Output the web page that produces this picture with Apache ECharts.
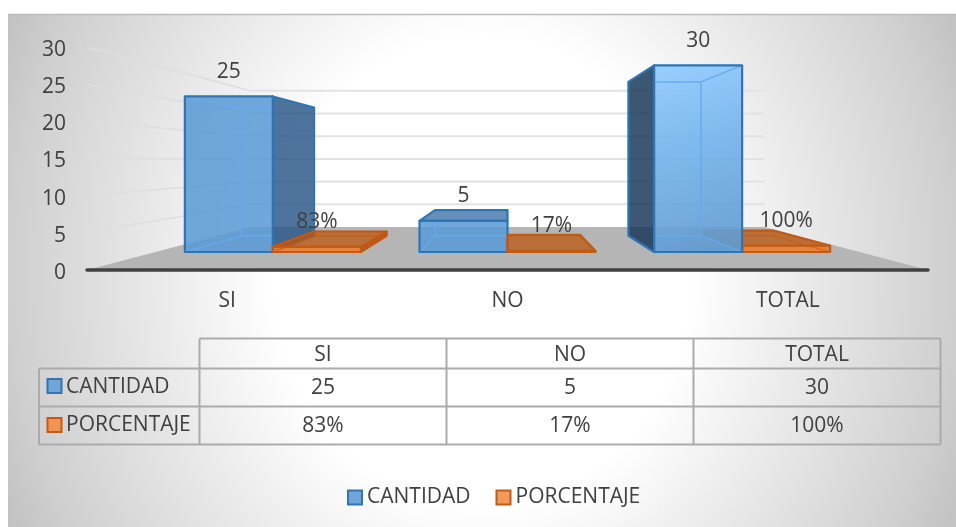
<!DOCTYPE html>
<html>
<head>
<meta charset="utf-8">
<style>html,body{margin:0;padding:0;background:#fff}#c{width:956px;height:527px}</style>
<script src="https://cdn.jsdelivr.net/npm/echarts@6/dist/echarts.min.js"></script>
</head>
<body>
<div id="c"></div>
<script>
const categories = ['SI', 'NO', 'TOTAL'];
const cantidad = [25, 5, 30];
const porcentaje = [0.83, 0.17, 1];
const porcentajeLabels = ['83%', '17%', '100%'];
const yTicks = [0, 5, 10, 15, 20, 25, 30];
const seriesNames = ['CANTIDAD', 'PORCENTAJE'];

const FONT = '"Open Sans", "Noto Sans", sans-serif';
const TEXT = '#404040';
const FS = 21;
const VANISH_Y = 159.5, FLOOR_BACK = 0.611, BAR_FRONT = 0.837, BAR_BACK = 0.69, BAR_FRACTION = 0.375;

const BLUE = {
  edge: '#2e75b6', inner: 'rgba(100,170,238,0.9)', innerFill: 'rgba(91,155,213,0.10)',
  front: 'rgba(91,155,213,0.86)', right: 'rgba(38,84,132,0.80)', left: 'rgba(22,52,86,0.82)', top: 'rgba(50,105,160,0.72)'
};
const ORANGE = {
  edge: '#c55a11', inner: 'rgba(197,90,17,0.55)', innerFill: 'rgba(197,90,17,0.10)',
  front: 'rgba(237,125,49,0.92)', right: 'rgba(170,80,20,0.85)', left: 'rgba(170,80,20,0.75)', top: 'rgba(190,85,10,0.70)'
};

const chart = echarts.init(document.getElementById('c'), null, {renderer: 'canvas'});

function projector(api, params) {
  const vx = params.coordSys.x + params.coordSys.width / 2;
  return (p, d) => [vx + (p[0] - vx) * d, VANISH_Y + (p[1] - VANISH_Y) * d];
}

function renderScene(params, api) {
  const cs = params.coordSys;
  const project = projector(api, params);
  const left = cs.x, right = cs.x + cs.width;
  const y = api.coord([0, api.value(1)])[1];
  const children = [];
  if (params.dataIndex === 0) {
    children.push({
      type: 'polygon', z2: 1,
      shape: {points: [[left, y], project([left, y], FLOOR_BACK), project([right, y], FLOOR_BACK), [right, y]]},
      style: {fill: '#b5b5b5'}
    });
  } else {
    const a = project([left, y], FLOOR_BACK), b = project([right, y], FLOOR_BACK);
    children.push({type: 'line', z2: 2, shape: {x1: left, y1: y, x2: a[0], y2: a[1]}, style: {stroke: '#dedede', lineWidth: 1.5, fill: null}});
    children.push({type: 'line', z2: 2, shape: {x1: a[0], y1: a[1], x2: b[0], y2: b[1]}, style: {stroke: '#e2e2e2', lineWidth: 2, fill: null}});
  }
  return {type: 'group', children};
}

function barRenderer(palette, offsetSign, labelFor, layerFor) {
  return function (params, api) {
    const project = projector(api, params);
    const cat = api.value(0), val = api.value(1);
    const base = api.coord([cat, 0]), topPt = api.coord([cat, val]);
    const w = api.size([1, 0])[0] * BAR_FRACTION;
    const x0 = offsetSign < 0 ? base[0] - w : base[0];
    const x1 = x0 + w;
    const f = (x, y) => project([x, y], BAR_FRONT);
    const b = (x, y) => project([x, y], BAR_BACK);
    const fbl = f(x0, base[1]), fbr = f(x1, base[1]), ftl = f(x0, topPt[1]), ftr = f(x1, topPt[1]);
    const bbl = b(x0, base[1]), bbr = b(x1, base[1]), btl = b(x0, topPt[1]), btr = b(x1, topPt[1]);
    const layer = layerFor(params.dataIndex);
    const children = [];
    const face = (pts, fill, stroke, lw, z) => children.push({
      type: 'polygon', z2: layer + z, shape: {points: pts},
      style: {fill: fill, stroke: stroke, lineWidth: lw, lineJoin: 'round'}
    });
    const outerRight = btr[0] > ftr[0] + 0.5, outerLeft = btl[0] < ftl[0] - 0.5, outerTop = btr[1] < ftr[1] - 0.1;

    const innerFace = (pts) => face(pts, palette.innerFill, null, 0, 0);
    innerFace([bbl, bbr, btr, btl]);
    innerFace([fbl, fbr, bbr, bbl]);
    if (!outerRight) innerFace([fbr, ftr, btr, bbr]);
    if (!outerLeft) innerFace([fbl, ftl, btl, bbl]);
    if (!outerTop) innerFace([ftl, ftr, btr, btl]);

    if (outerRight) face([fbr, ftr, btr, bbr], palette.right, palette.edge, 2.2, 1);
    if (outerLeft) face([fbl, ftl, btl, bbl], palette.left, palette.edge, 2.2, 1);
    if (outerTop) face([ftl, ftr, btr, btl], palette.top, palette.edge, 2.2, 1);

    let frontFill = palette.front;
    if (palette === BLUE && params.dataIndex === 2) {
      frontFill = new echarts.graphic.LinearGradient(0, 0, 0.6, 1, [
        {offset: 0, color: 'rgba(148,205,255,0.95)'},
        {offset: 0.45, color: 'rgba(118,180,236,0.92)'},
        {offset: 1, color: 'rgba(96,155,208,0.90)'}
      ]);
    }
    face([fbl, fbr, ftr, ftl], frontFill, null, 0, 2);

    // inner edges show only through the front face of the blue bars
    const frontClip = {type: 'rect', shape: {x: ftl[0], y: ftl[1], width: ftr[0] - ftl[0], height: fbl[1] - ftl[1]}};
    const edges = [[bbl, bbr], [bbr, btr], [btr, btl], [btl, bbl], [fbl, bbl], [fbr, bbr], [ftl, btl], [ftr, btr]];
    edges.forEach(e => {
      const line = {
        type: 'line', z2: layer + 3,
        shape: {x1: e[0][0], y1: e[0][1], x2: e[1][0], y2: e[1][1]},
        style: {stroke: palette.inner, lineWidth: 1.5, fill: null}
      };
      if (palette === BLUE) line.clipPath = frontClip;
      children.push(line);
    });
    face([fbl, fbr, ftr, ftl], 'rgba(0,0,0,0)', palette.edge, 2.2, 4);

    const labelX = (ftl[0] + ftr[0]) / 2, labelY = ftl[1] - 24.5;
    children.push({
      type: 'text', z2: 1000,
      style: {
        text: labelFor(params.dataIndex), x: labelX, y: labelY,
        align: 'center', verticalAlign: 'middle', textAlign: 'center', textVerticalAlign: 'middle',
        fill: TEXT, fontSize: FS, fontFamily: FONT
      }
    });
    return {type: 'group', children};
  };
}

const elements = [];
elements.push({
  type: 'rect', z: -10, silent: true, x: 482, y: 270, scaleY: 1.12,
  shape: {x: -700, y: -700, width: 1400, height: 1400},
  style: {fill: new echarts.graphic.RadialGradient(0.5, 0.5, 0.5, [
    {offset: 0, color: '#ffffff'},
    {offset: 0.297, color: '#ffffff'},
    {offset: 0.674, color: '#cfcfcf'},
    {offset: 0.735, color: '#c4c4c4'},
    {offset: 1, color: '#aaaaaa'}
  ])}
});
elements.push({type: 'rect', z: -9, silent: true, shape: {x: 0, y: 0, width: 956, height: 14}, style: {fill: '#fff'}});
elements.push({type: 'rect', z: -9, silent: true, shape: {x: 0, y: 0, width: 8, height: 527}, style: {fill: '#fff'}});
elements.push({type: 'line', z: -8, silent: true, shape: {x1: 8, y1: 14.5, x2: 956, y2: 14.5}, style: {stroke: '#bcbcbc', lineWidth: 1.5}});
elements.push({type: 'rect', z: -7, silent: true, shape: {x: 320, y: 474, width: 338, height: 45}, style: {fill: 'rgba(255,255,255,0.14)'}});

const colX = [199.5, 446.5, 693.5, 940.5], rowY = [338.5, 368.5, 406.5, 444.5], tableLeft = 39;
const hLine = (x1, x2, y) => elements.push({type: 'line', z: -5, silent: true, shape: {x1, y1: y, x2, y2: y}, style: {stroke: '#ababab', lineWidth: 2}});
const vLine = (x, y1, y2) => elements.push({type: 'line', z: -5, silent: true, shape: {x1: x, y1, x2: x, y2}, style: {stroke: '#ababab', lineWidth: 2}});
hLine(colX[0], colX[3], rowY[0]);
hLine(tableLeft, colX[3], rowY[1]);
hLine(tableLeft, colX[3], rowY[2]);
hLine(tableLeft, colX[3], rowY[3]);
vLine(tableLeft, rowY[1], rowY[3]);
colX.forEach(x => vLine(x, rowY[0], rowY[3]));

const cellText = (text, x, y, align) => elements.push({
  type: 'text', z: 5, silent: true, x, y,
  style: {text, align: align || 'center', verticalAlign: 'middle', fill: TEXT, fontSize: FS, fontFamily: FONT}
});
categories.forEach((c, i) => {
  const cx = (colX[i] + colX[i + 1]) / 2;
  cellText(c, cx, 355);
  cellText(String(cantidad[i]), cx, 388.5);
  cellText(porcentajeLabels[i], cx, 426.5);
});
cellText(seriesNames[0], 66, 387.5, 'left');
cellText(seriesNames[1], 66, 425.5, 'left');
const key = (y, fill, stroke) => elements.push({
  type: 'rect', z: 5, silent: true, shape: {x: 47.5, y, width: 14, height: 14},
  style: {fill, stroke, lineWidth: 2}
});
key(379, '#6fa5d9', BLUE.edge);
key(418, '#ef9455', ORANGE.edge);

chart.setOption({
  animation: false,
  backgroundColor: 'transparent',
  textStyle: {fontFamily: FONT},
  graphic: {elements},
  legend: {
    left: 342, top: 482, itemWidth: 14, itemHeight: 14, itemGap: 25, selectedMode: false,
    textStyle: {fontSize: FS, color: TEXT, fontFamily: FONT},
    data: [
      {name: seriesNames[0], icon: 'rect', itemStyle: {color: '#6fa5d9', borderColor: BLUE.edge, borderWidth: 2}},
      {name: seriesNames[1], icon: 'rect', itemStyle: {color: '#f09a5c', borderColor: ORANGE.edge, borderWidth: 2}}
    ]
  },
  grid: {left: 87, top: 47, width: 841, height: 223, containLabel: false},
  xAxis: {
    type: 'category', data: categories, boundaryGap: true, z: 3,
    axisTick: {show: false},
    axisLine: {show: true, lineStyle: {color: '#404040', width: 3.5, cap: 'round'}},
    axisLabel: {fontSize: FS, color: TEXT, fontFamily: FONT, margin: 21}
  },
  yAxis: {
    type: 'value', min: 0, max: 30, interval: 5,
    axisLine: {show: false}, axisTick: {show: false}, splitLine: {show: false},
    axisLabel: {
      margin: 21, formatter: '{t|{value}}',
      rich: {t: {fontSize: FS, color: TEXT, fontFamily: FONT, padding: [6, 0, 0, 0]}}
    }
  },
  series: [
    {type: 'custom', name: 'scene', silent: true, z: 1, renderItem: renderScene,
     encode: {x: 0, y: 1}, data: yTicks.map(v => [0, v])},
    {type: 'custom', name: seriesNames[0], silent: true, z: 2,
     renderItem: barRenderer(BLUE, -1, i => String(cantidad[i]), i => (i === 2 ? 300 : 100)),
     encode: {x: 0, y: 1}, data: cantidad.map((v, i) => [i, v]), itemStyle: {color: '#6fa5d9'}},
    {type: 'custom', name: seriesNames[1], silent: true, z: 2,
     renderItem: barRenderer(ORANGE, 1, i => porcentajeLabels[i], () => 200),
     encode: {x: 0, y: 1}, data: porcentaje.map((v, i) => [i, v]), itemStyle: {color: '#f09a5c'}}
  ]
});
</script>
</body>
</html>
